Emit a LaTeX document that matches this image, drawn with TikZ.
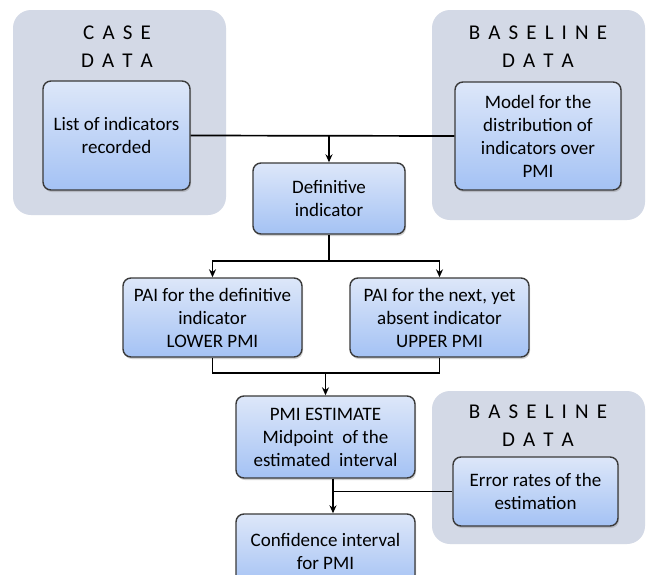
\documentclass[tikz,border=0pt]{standalone}
\usepackage{fontspec}
\setmainfont{Carlito}
\usepackage{xcolor}
\usepackage{tikz}
\usetikzlibrary{arrows.meta,shadows}

\definecolor{panelgray}{HTML}{D3D9E6}
\definecolor{boxtop}{HTML}{DDE7F9}
\definecolor{boxbottom}{HTML}{A4C2F4}
\definecolor{boxline}{HTML}{3A3A3A}

\tikzset{
    panel/.style={fill=panelgray, rounded corners=18pt},
    stepbox/.style={draw=boxline, line width=1.4pt, rounded corners=8pt,
        top color=boxtop, bottom color=boxbottom, align=center,
        font=\fontsize{19}{23}\selectfont,
        drop shadow={opacity=0.35, shadow xshift=1pt, shadow yshift=-2pt}},
    paneltitle/.style={align=center, font=\fontsize{21}{28}\selectfont\addfontfeature{LetterSpace=16}},
    link/.style={line width=1.7pt, black},
    arr/.style={link, -{Stealth[length=8pt,width=7pt]}}
}

\begin{document}
\begin{tikzpicture}[x=1pt, y=-1pt]
    % Fix the page to the picture size
    \clip (0,0) rectangle (649,574);
    \fill[white] (0,0) rectangle (649,574);

    % Draw the grey data panels
    \fill[panel] (13,10) rectangle (226,215);
    \fill[panel] (432,10) rectangle (645,220);
    \fill[panel] (432,391) rectangle (645,544);

    % Panel titles
    \node[paneltitle] (casetitle) at (117,47) {C A S E\\D A T A};
    \node[paneltitle] (basetitle) at (538,47) {B A S E L I N E\\D A T A};
    \node[paneltitle] (errtitle) at (538,426) {B A S E L I N E\\D A T A};

    % Draw the boxes
    \node[stepbox, minimum width=147, minimum height=109] (list) at (116.5,135.5)
        {List of indicators\\recorded};
    \node[stepbox, minimum width=166, minimum height=108] (model) at (538,136)
        {Model for the\\distribution of\\indicators over\\PMI};
    \node[stepbox, minimum width=152, minimum height=71] (def) at (329,198.5)
        {Definitive\\indicator};
    \node[stepbox, minimum width=179, minimum height=79] (pail) at (212.5,317.5)
        {PAI for the definitive\\indicator\\LOWER PMI};
    \node[stepbox, minimum width=179, minimum height=79] (pair) at (439.5,317.5)
        {PAI for the next, yet\\absent indicator\\UPPER PMI};
    \node[stepbox, minimum width=179, minimum height=82] (est) at (325.5,437)
        {PMI ESTIMATE\\Midpoint~ of the\\estimated~ interval};
    \node[stepbox, minimum width=165, minimum height=69] (err) at (535.5,491.5)
        {Error rates of the\\estimation};
    \node[stepbox, minimum width=179, minimum height=74] (conf) at (325.5,551)
        {Confidence interval\\for PMI};

    % Junction points
    \coordinate (split) at (329,261);
    \coordinate (merge) at (325.5,373);
    \coordinate (join) at (333,491.5);

    % Draw the connectors
    \draw[link] (list.east) -- (model.west);
    \draw[arr] (list.east -| def.north) -- (def.north);
    \draw[link] (def.south) -- (split);
    \draw[arr] (split) -| (pail.north);
    \draw[arr] (split) -| (pair.north);
    \draw[link] (pail.south) |- (merge) -| (pair.south);
    \draw[arr] (merge) -- (est.north);
    \draw[arr] (est.south -| join) -- (conf.north -| join);
    \draw[link] (err.west) -- (join);
\end{tikzpicture}
\end{document}
